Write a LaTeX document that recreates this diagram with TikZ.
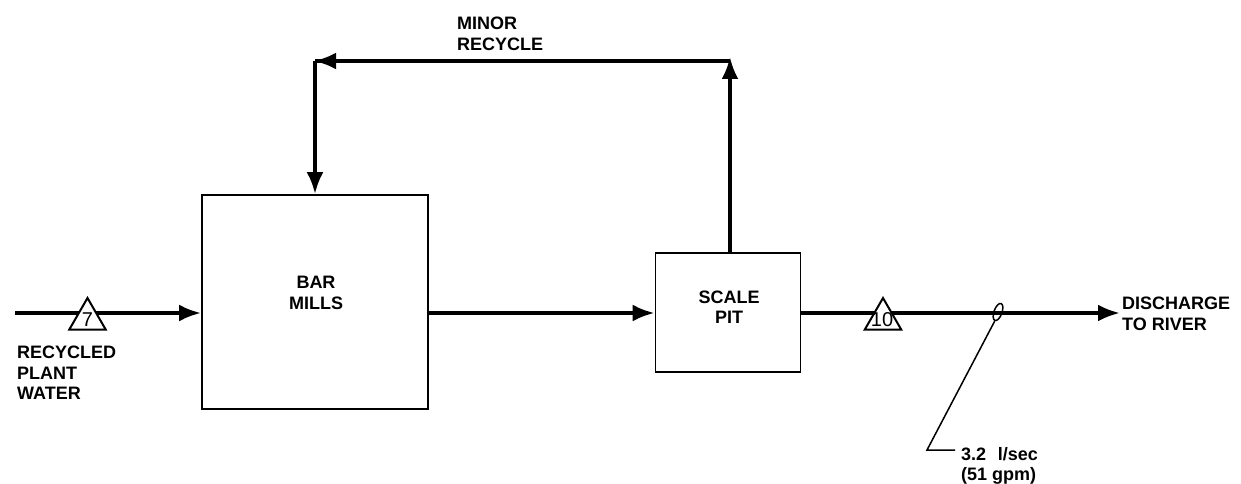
\documentclass[tikz,border=0pt]{standalone}
\usepackage{fontspec}
\setmainfont{Liberation Sans}
\usetikzlibrary{arrows.meta,shapes.geometric}
\begin{document}
\begin{tikzpicture}[x=1pt,y=-1pt,
  box/.style={draw,line width=1.8pt,inner sep=0pt},
  flow/.style={line width=3.8pt,-{Latex[length=22pt,width=17pt]}},
  tri/.style={draw,fill=white,line width=2pt,regular polygon,regular polygon sides=3,minimum size=42pt,inner sep=0pt},
  num/.style={font=\fontsize{20}{20}\selectfont,inner sep=0pt},
  lbl/.style={font=\fontsize{18}{20.5}\selectfont\bfseries,align=left,inner sep=0pt}]
\useasboundingbox (0,0) rectangle (1241,484);
% boxes
\node[box,minimum width=226pt,minimum height=214pt] (bar) at (315,302) {};
\node[box,minimum width=145pt,minimum height=119pt] (pit) at (728,312.5) {};
\node[lbl,align=center] at (316,293) {BAR\\MILLS};
\node[lbl,align=center] at (729,307) {SCALE\\PIT};
% coordinates
\coordinate (in) at (15,313);
\coordinate (out) at (1120,313);
\coordinate (pu) at (730,57);
\coordinate (tl) at (315,61);
\coordinate (tr) at (730,61);
% main line
\draw[flow] (in) -- (bar.west|-in);
\draw[flow] (bar.east|-in) -- (pit.west|-in);
\draw[flow] (pit.east|-in) -- (out);
% recycle
\draw[flow] (pit.north-|tr) -- (pu);
\draw[line width=3.8pt] (tr) -- (tl);
\draw[flow] (tr) -- ([xshift=-1pt]tl);
\draw[flow] (tl) -- (bar.north-|tl);
% triangles
\node[tri] (t7) at (87.5,319) {};
\node[num] at (87.5,320) {7};
\node[tri] (t10) at (883,319) {};
\node[num] at (882,320) {10};
% flowmeter
\node[draw,line width=1.5pt,ellipse,minimum width=8pt,minimum height=18pt,inner sep=0pt,rotate=-20] (fm) at (998,312) {};
\coordinate (lk) at (927,450);
\coordinate (le) at (955,450);
\draw[line width=1.5pt] (fm.south) -- (lk) -- (le);
\node[lbl,anchor=north west] (flowtxt) at (961,447) {3.2\hspace{0.65em}l/sec\\(51 gpm)};
% labels
\node[lbl,anchor=north west] (rpw) at (17,346) {RECYCLED\\PLANT\\WATER};
\node[lbl,anchor=north west] (dis) at (1122,297) {DISCHARGE\\TO RIVER};
\node[lbl,anchor=north west] (mr) at (457,17) {MINOR\\RECYCLE};
\end{tikzpicture}
\end{document}
